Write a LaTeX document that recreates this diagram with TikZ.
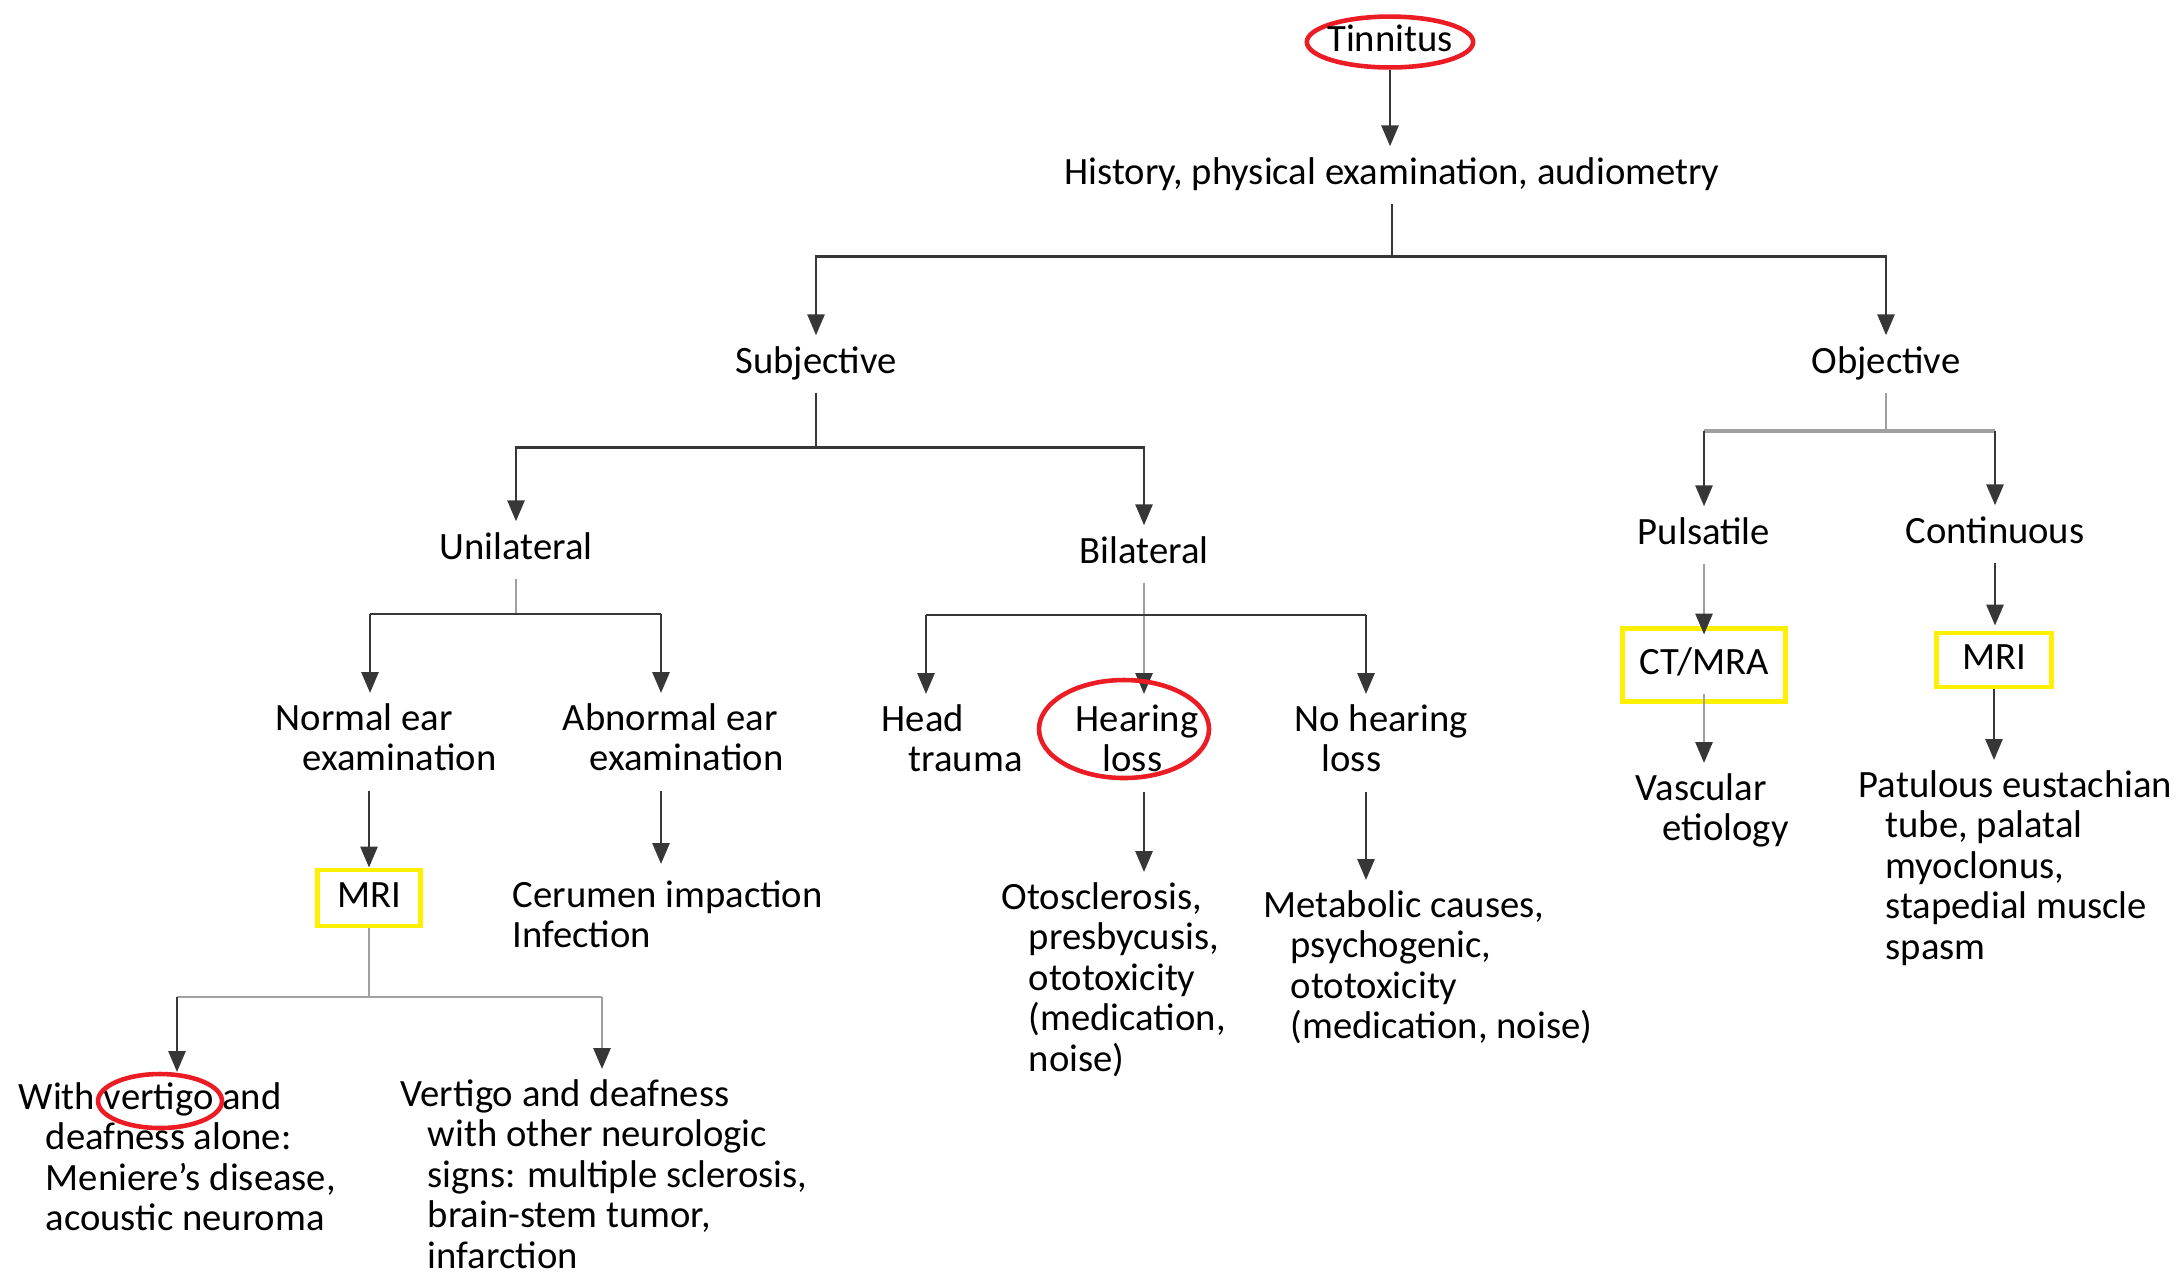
\documentclass[tikz,border=0pt]{standalone}
\usepackage{fontspec}
\setmainfont{Carlito}
\usetikzlibrary{arrows.meta,positioning,calc,shapes.geometric}
\definecolor{markRed}{RGB}{236,28,36}
\definecolor{markYellow}{RGB}{255,240,0}
\definecolor{lineDark}{RGB}{55,55,55}
\definecolor{lineGray}{RGB}{160,160,160}
\newcommand{\hind}{\hspace*{2.7mm}}
\tikzset{
  lbl/.style={font=\fontsize{11}{11.5}\selectfont, inner sep=1mm, text height=2.7mm, text depth=0.9mm},
  mlbl/.style={font=\fontsize{11}{11.5}\selectfont, inner sep=1mm, align=left, anchor=north west},
  testbox/.style={lbl, draw=markYellow, line width=1.4pt, inner sep=0pt},
  ring/.style={ellipse, draw=markRed, line width=1.3pt, inner sep=0pt},
  link/.style={draw=lineDark, line width=0.8pt},
  palelink/.style={draw=lineGray, line width=0.8pt},
  arrow/.style={link, -{Triangle[length=2.1mm, width=1.7mm]}},
  palearrow/.style={palelink, -{Triangle[length=2.1mm, width=1.7mm, color=lineDark]}}
}

\begin{document}
\begin{tikzpicture}
\useasboundingbox (0,0) rectangle (21.77,-12.75);
% top of the tree
\node[lbl, ring, inner xsep=-0.4mm] (tinn) at (13.90,-0.42) {Tinnitus};
\node[lbl] (hist) at (13.92,-1.75) {History, physical examination, audiometry};
\node[lbl] (subj) at (8.16,-3.64) {Subjective};
\node[lbl] (obj) at (18.86,-3.64) {Objective};
% subjective side
\node[lbl] (uni) at (5.16,-5.50) {Unilateral};
\node[lbl] (bil) at (11.44,-5.54) {Bilateral};
\node[mlbl] (norm) at (2.65,-6.93) {Normal ear\\\hind examination};
\node[mlbl] (abn) at (5.52,-6.93) {Abnormal ear\\\hind examination};
\node[testbox, minimum width=1.03cm, minimum height=0.56cm] (mriA) at (3.69,-8.98) {MRI};
\node[mlbl] (cer) at (5.02,-8.70) {Cerumen impaction\\Infection};
\node[mlbl] (vert1) at (0.08,-10.72) {With vertigo and\\\hind deafness alone:\\\hind Meniere's disease,\\\hind acoustic neuroma};
\node[mlbl] (vert2) at (3.90,-10.69) {Vertigo and deafness\\\hind with other neurologic\\\hind signs: multiple sclerosis,\\\hind brain-stem tumor,\\\hind infarction};
\node[mlbl] (head) at (8.71,-6.94) {Head\\\hind trauma};
\node[mlbl] (hear) at (10.65,-6.94) {Hearing\\\hind loss};
\node[mlbl] (nohear) at (12.84,-6.94) {No hearing\\\hind loss};
\node[mlbl] (oto) at (9.91,-8.72) {Otosclerosis,\\\hind presbycusis,\\\hind ototoxicity\\\hind (medication,\\\hind noise)};
\node[mlbl] (meta) at (12.53,-8.80) {Metabolic causes,\\\hind psychogenic,\\\hind ototoxicity\\\hind (medication, noise)};
% objective side
\node[lbl] (puls) at (17.04,-5.35) {Pulsatile};
\node[lbl] (cont) at (19.95,-5.34) {Continuous};
\node[testbox, minimum width=1.63cm, minimum height=0.73cm] (ctmra) at (17.04,-6.65) {CT/MRA};
\node[testbox, minimum width=1.15cm, minimum height=0.54cm] (mriB) at (19.94,-6.60) {MRI};
\node[mlbl] (vasc) at (16.25,-7.63) {Vascular\\\hind etiology};
\node[mlbl] (patu) at (18.48,-7.60) {Patulous eustachian\\\hind tube, palatal\\\hind myoclonus,\\\hind stapedial muscle\\\hind spasm};

% bus corners
\coordinate (uniL) at (3.70,-6.14);
\coordinate (uniR) at (6.61,-6.14);
\coordinate (bilL) at (9.26,-6.15);
\coordinate (bilR) at (13.66,-6.15);
\coordinate (vertL) at (1.77,-9.97);
\coordinate (vertR) at (6.02,-9.97);

\draw[arrow] (tinn.south) -- (tinn.south |- hist.north);
\draw[arrow] (hist.south) -- ++(0,-0.53) -| (subj.north);
\draw[arrow] (hist.south) -- ++(0,-0.53) -| (obj.north);
\draw[arrow] (subj.south) -- ++(0,-0.55) -| (uni.north);
\draw[arrow] (subj.south) -- ++(0,-0.55) -| (bil.north);

\draw[palelink] (uni.south) -- (uni.south |- uniL);
\draw[link] (uniL) -- (uniR);
\draw[arrow] (uniL) -- (uniL |- norm.north);
\draw[arrow] (uniR) -- (uniR |- abn.north);
\draw[arrow, shorten <=0.9mm] (mriA.north |- norm.south) -- (mriA.north);
\draw[arrow, shorten <=0.9mm, shorten >=0.6mm] (uniR |- abn.south) -- (uniR |- cer.north);
\draw[palelink] (mriA.south) -- (mriA.south |- vertL);
\draw[palelink] (vertL) -- (vertR);
\draw[arrow] (vertL) -- (vertL |- vert1.north);
\draw[palearrow] (vertR) -- (vertR |- vert2.north);

\draw[palearrow] (bil.south) -- (bil.south |- hear.north);
\draw[link] (bilL) -- (bilR);
\draw[arrow] (bilL) -- (bilL |- head.north);
\draw[arrow] (bilR) -- (bilR |- nohear.north);
\draw[arrow, shorten <=0.9mm] (bil.south |- hear.south) -- (bil.south |- oto.north);
\draw[arrow, shorten <=0.9mm] (bilR |- nohear.south) -- (bilR |- meta.north);

\draw[palelink] (obj.south) -- ++(0,-0.38) coordinate (objbus);
\draw[palelink, line width=1.1pt] (puls.north |- objbus) -- (cont.north |- objbus);
\draw[arrow] (puls.north |- objbus) -- (puls.north);
\draw[arrow] (cont.north |- objbus) -- (cont.north);
\draw[palearrow, shorten >=-0.85mm] (puls.south) -- (puls.south |- ctmra.north);
\draw[arrow, shorten >=0.5mm] (cont.south) -- (cont.south |- mriB.north);
\draw[palearrow, shorten <=-1mm] (ctmra.south) -- (ctmra.south |- vasc.north);
\draw[arrow] (mriB.south) -- (mriB.south |- patu.north);

% red marks
\draw[markRed, line width=1.3pt] (11.24,-7.29) ellipse [x radius=0.85, y radius=0.49];
\draw[markRed, line width=1.3pt] (1.60,-11.01) ellipse [x radius=0.62, y radius=0.27];
\end{tikzpicture}
\end{document}
